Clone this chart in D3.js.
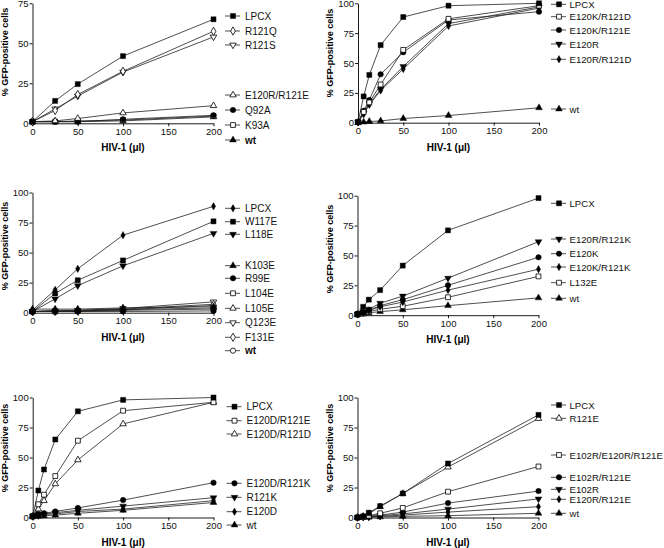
<!DOCTYPE html>
<html><head><meta charset="utf-8">
<script src="https://cdn.jsdelivr.net/npm/d3@7"></script>
<style>
html,body{margin:0;padding:0;background:#fff;}
svg{display:block;font-family:"Liberation Sans",Arial,sans-serif;}
</style></head>
<body>
<svg id="chart" width="664" height="548"></svg>
<script>
// ---------------- DATA ----------------
const xTicks = [0, 50, 100, 150, 200];
const yTicks75 = [0, 25, 50, 75];
const yTicks100 = [0, 25, 50, 75, 100];
const dosesA = [0, 25, 50, 100, 200];
const dosesB = [0, 6.25, 12.5, 25, 50, 100, 200];

// Panel A (top left)
const namesA = ["LPCX", "R121Q", "R121S", "E120R/R121E", "Q92A", "K93A", "wt"];
const valuesA = [
  [1, 14, 24.5, 42, 65],
  [1, 8, 18, 32.5, 57.5],
  [1, 9, 17, 32, 54],
  [1, 1.5, 3, 6.5, 11],
  [1, 1, 1, 2.5, 5],
  [1, 1, 1.5, 2, 4.5],
  [1, 1, 1, 1.5, 4]
];
// Panel B (top right)
const namesB = ["LPCX", "E120K/R121D", "E120K/R121E", "E120R", "E120R/R121D", "wt"];
const valuesB = [
  [0.5, 22, 40, 65, 88.5, 98, 100],
  [0.5, 9, 17, 32, 61, 87, 98],
  [0.5, 10, 19, 40.5, 59, 86, 93],
  [0.5, 8, 16, 28, 47, 83, 97],
  [0.5, 7, 15, 27, 45, 81, 96],
  [0, 0.5, 1, 1.5, 3.5, 6, 12.5]
];
// Panel C (middle left)
const namesC = ["LPCX", "W117E", "L118E", "K103E", "R99E", "L104E", "L105E", "Q123E", "F131E", "wt"];
const valuesC = [
  [2, 19, 36.5, 64.5, 88.5],
  [1, 16, 27, 43.5, 76],
  [1, 11.5, 22.5, 39, 66],
  [3, 3, 3, 4, 5],
  [1, 1, 1, 1, 1.5],
  [1, 1, 1.5, 2.5, 4],
  [1, 2, 2, 3, 7],
  [1, 1.5, 2, 3.5, 9],
  [1, 1, 1.5, 2.5, 6],
  [1, 1, 1, 2, 3]
];
// Panel D (middle right)
const namesD = ["LPCX", "E120R/R121K", "E120K", "E120K/R121K", "L132E", "wt"];
const valuesD = [
  [1, 7, 13, 21, 41.5, 71, 98],
  [1, 3, 5, 10, 16, 31, 61.5],
  [1, 2, 4, 8, 13, 25, 48.5],
  [1, 2, 4, 7, 11, 21, 38.5],
  [0.5, 1.5, 3, 5, 7.5, 15, 32.5],
  [0.5, 1, 2, 3, 4.5, 8, 14.5]
];
// Panel E (bottom left)
const namesE = ["LPCX", "E120D/R121E", "E120D/R121D", "E120D/R121K", "R121K", "E120D", "wt"];
const valuesE = [
  [1, 22.5, 40, 65, 88.5, 98, 100],
  [1, 11, 19, 34.5, 64, 89, 96],
  [1, 7, 14, 28, 48, 78, 96],
  [1, 3, 3.5, 5, 8, 14.5, 29],
  [1, 2, 3, 4, 6, 9.5, 16.5],
  [1, 1.5, 2.5, 3, 5, 7, 14],
  [0.5, 1, 1.5, 2, 3.5, 6, 12.5]
];
// Panel F (bottom right)
const namesF = ["LPCX", "R121E", "E102R/E120R/R121E", "E102R/R121E", "E102R", "E120R/R121E", "wt"];
const valuesF = [
  [0, 1, 4, 9.5, 20, 45, 85.5],
  [0, 1, 3, 9, 20, 42, 82.5],
  [0, 0.5, 1.5, 3.5, 8, 21.5, 42.5],
  [0, 0.5, 1, 2, 4.5, 12, 22],
  [0, 0.3, 0.5, 1.5, 3, 7, 15.5],
  [0, 0.3, 0.5, 1, 2, 4.5, 9],
  [0, 0, 0.2, 0.5, 1, 1.5, 3.5]
];

// ---------------- STYLES (marker shapes) ----------------
const marksA = ["sq", "diO", "tdO", "tuO", "ci", "sqO", "tu"];
const marksB = ["sq", "sqO", "ci", "td", "di", "tu"];
const marksC = ["di", "sq", "td", "tu", "ci", "sqO", "tuO", "tdO", "diO", "ciO"];
const marksD = ["sq", "td", "ci", "di", "sqO", "tu"];
const marksE = ["sq", "sqO", "tuO", "ci", "td", "di", "tu"];
const marksF = ["sq", "tuO", "sqO", "ci", "td", "di", "tu"];

// ---------------- LAYOUT ----------------
const layout = [
  {x0: 32.5, x1: 213.5, yTop: 3.3, yBot: 123.3, yMax: 75, legLine: 225, legText: 245, legFont: 10, ylabC: 52,
   legY: [16, 31, 45, 95, 110, 125, 140], boldWt: true},
  {x0: 358, x1: 539, yTop: 3.3, yBot: 122.7, yMax: 100, legLine: 551, legText: 569.5, legFont: 9.6, ylabC: 53,
   legY: [4.3, 16.7, 30, 44, 59.3, 109], boldWt: false},
  {x0: 32.5, x1: 213.5, yTop: 192.5, yBot: 312.7, yMax: 100, legLine: 225, legText: 245, legFont: 10, ylabC: 246,
   legY: [208.3, 221.7, 234.3, 265.7, 278.3, 293.3, 308.3, 322.7, 337.3, 350.7], boldWt: true},
  {x0: 357.5, x1: 538.5, yTop: 195.7, yBot: 315.2, yMax: 100, legLine: 551, legText: 569.5, legFont: 9.6, ylabC: 249,
   legY: [203.3, 239, 253.7, 267, 282.7, 298.3], boldWt: false},
  {x0: 32.7, x1: 213.5, yTop: 397.5, yBot: 517.5, yMax: 100, legLine: 226.5, legText: 246.5, legFont: 10, ylabC: 448,
   legY: [406.7, 420.7, 434, 483.3, 497.3, 511.7, 525], boldWt: false},
  {x0: 357.5, x1: 538.5, yTop: 397.5, yBot: 517.5, yMax: 100, legLine: 551, legText: 569.5, legFont: 9.6, ylabC: 448,
   legY: [405, 418.3, 455, 477.3, 489.3, 499.3, 513.3], boldWt: false}
];

const panels = [
  {doses: dosesA, names: namesA, values: valuesA, marks: marksA, yTicks: yTicks75},
  {doses: dosesB, names: namesB, values: valuesB, marks: marksB, yTicks: yTicks100},
  {doses: dosesA, names: namesC, values: valuesC, marks: marksC, yTicks: yTicks100},
  {doses: dosesB, names: namesD, values: valuesD, marks: marksD, yTicks: yTicks100},
  {doses: dosesB, names: namesE, values: valuesE, marks: marksE, yTicks: yTicks100},
  {doses: dosesB, names: namesF, values: valuesF, marks: marksF, yTicks: yTicks100}
];

const svg = d3.select("#chart");
const lineColor = "#222";

function drawMarker(g, code, x, y) {
  const open = code.endsWith("O");
  const base = code.replace("O", "");
  let type, size, rot = 0;
  if (base === "sq") { type = d3.symbolSquare; size = 26; }
  else if (base === "ci") { type = d3.symbolCircle; size = 24; }
  else if (base === "tu") { type = d3.symbolTriangle; size = 20; }
  else if (base === "td") { type = d3.symbolTriangle; size = 20; rot = 180; }
  else { type = d3.symbolDiamond; size = open ? 22 : 16; }
  g.append("path")
    .attr("d", d3.symbol().type(type).size(open ? size * 0.9 : size)())
    .attr("transform", `translate(${x},${y}) rotate(${rot})`)
    .attr("fill", open ? "#fff" : "#000")
    .attr("stroke", "#000")
    .attr("stroke-width", open ? 0.8 : 0.4);
}

panels.forEach((p, i) => {
  const L = layout[i];
  const x = d3.scaleLinear().domain([0, 200]).range([L.x0, L.x1]);
  const y = d3.scaleLinear().domain([0, L.yMax]).range([L.yBot, L.yTop]);
  const g = svg.append("g");

  // axes
  const xa = g.append("g").attr("transform", `translate(0,${L.yBot})`)
    .call(d3.axisBottom(x).tickValues(xTicks).tickSize(3).tickPadding(2).tickSizeOuter(0));
  const ya = g.append("g").attr("transform", `translate(${L.x0},0)`)
    .call(d3.axisLeft(y).tickValues(p.yTicks).tickSize(3).tickPadding(1).tickSizeOuter(0));
  [xa, ya].forEach(a => {
    a.select(".domain").attr("stroke", "#000").attr("stroke-width", 0.9);
    a.selectAll(".tick line").attr("stroke", "#000").attr("stroke-width", 0.9);
    a.selectAll(".tick text").attr("font-size", 9.5).attr("fill", "#111")
      .attr("font-family", "Liberation Sans, Arial, sans-serif");
  });

  // axis titles
  g.append("text")
    .attr("x", (L.x0 + L.x1) / 2).attr("y", L.yBot + 28)
    .attr("text-anchor", "middle").attr("font-size", 10).attr("font-weight", "bold")
    .text("HIV-1 (μl)");
  g.append("text")
    .attr("transform", `translate(${L.x0 - 25},${L.ylabC}) rotate(-90)`)
    .attr("text-anchor", "middle").attr("font-size", 9).attr("font-weight", "bold")
    .text("% GFP-positive cells");

  // series
  const line = d3.line().x((d, k) => x(p.doses[k])).y(d => y(d));
  p.values.forEach((vals) => {
    g.append("path").attr("d", line(vals)).attr("fill", "none")
      .attr("stroke", lineColor).attr("stroke-width", 0.8);
  });
  p.values.slice().reverse().forEach((vals, rs) => {
    const s = p.values.length - 1 - rs;
    vals.forEach((v, k) => drawMarker(g, p.marks[s], x(p.doses[k]), y(v)));
  });

  // legend
  p.names.forEach((name, s) => {
    const ly = L.legY[s];
    g.append("line").attr("x1", L.legLine).attr("x2", L.legLine + 15)
      .attr("y1", ly).attr("y2", ly).attr("stroke", lineColor).attr("stroke-width", 0.8);
    drawMarker(g, p.marks[s], L.legLine + 8, ly);
    g.append("text").attr("x", L.legText).attr("y", ly + 3.5)
      .attr("font-size", L.legFont)
      .attr("font-weight", (name === "wt" && L.boldWt) ? "bold" : "normal")
      .attr("fill", "#111")
      .text(name);
  });
});
</script>
</body></html>
